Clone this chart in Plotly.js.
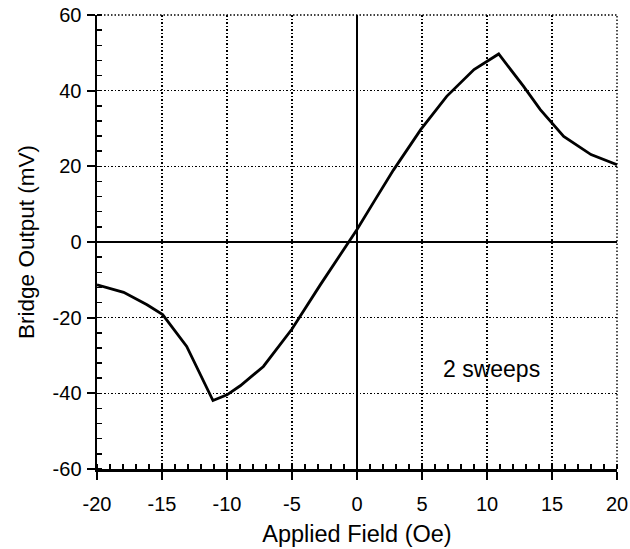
<!DOCTYPE html>
<html>
<head>
<meta charset="utf-8">
<script src="https://cdn.plot.ly/plotly-3.0.1.min.js"></script>
<style>html,body{margin:0;padding:0;background:#fff;}#chart{width:630px;height:549px;}</style>
</head>
<body>
<div id="chart"></div>
<script>
var fieldOe = [-20, -17.95, -16.15, -14.95, -13.1, -11.08, -10, -8.98, -7.2, -5, -2.8, -0.65, 0, 1.4, 2.8, 4.9, 6.9, 9, 10.9, 12.8, 14.1, 15.9, 18, 20];
var outputMv = [-11.3, -13.3, -16.6, -19.2, -27.6, -41.9, -40.4, -38, -32.9, -23, -11.2, 0.2, 3.3, 11.2, 19, 29.7, 38.5, 45.6, 49.7, 41.2, 35, 27.9, 23.1, 20.4];
var xTicks = [-20, -15, -10, -5, 0, 5, 10, 15, 20];
var yTicks = [-60, -40, -20, 0, 20, 40, 60];
var noteText = "2 sweeps";
var noteX = 10.35, noteY = -33.5;

var fontFam = "Liberation Sans, Arial, sans-serif";
var trace = {
  x: fieldOe, y: outputMv, mode: "lines", type: "scatter",
  line: {color: "#000", width: 2.8}, hoverinfo: "skip"
};
var gridDash = "1.5px,2px";
var axisCommon = {
  showline: true, linecolor: "#000", linewidth: 2.5,
  showgrid: true, gridcolor: "#000", griddash: gridDash, gridwidth: 1.4,
  zeroline: true, zerolinecolor: "#000", zerolinewidth: 2,
  ticks: "outside", ticklen: 8, tickwidth: 2, tickcolor: "#000",
  tickfont: {family: fontFam, size: 20, color: "#000"},
  mirror: false, fixedrange: true, automargin: false
};
var layout = {
  width: 630, height: 549,
  margin: {l: 97, r: 13, t: 15, b: 80},
  paper_bgcolor: "#fff", plot_bgcolor: "#fff",
  showlegend: false,
  xaxis: Object.assign({}, axisCommon, {
    range: [-20, 20], tickmode: "array", tickvals: xTicks, ticktext: xTicks.map(String),
    ticklabelstandoff: 7,
    minor: {dtick: 1, ticks: "inside", ticklen: 5, tickwidth: 1.5, tickcolor: "#000", showgrid: false},
    title: {text: "Applied Field (Oe)", font: {family: fontFam, size: 23.5, color: "#000"}, standoff: 12}
  }),
  yaxis: Object.assign({}, axisCommon, {
    range: [-60, 60], tickmode: "array", tickvals: yTicks, ticktext: yTicks.map(String),
    ticklabelstandoff: 1,
    minor: {dtick: 4, ticks: "inside", ticklen: 5, tickwidth: 1.5, tickcolor: "#000", showgrid: false},
    title: {text: "Bridge Output (mV)", font: {family: fontFam, size: 22.5, color: "#000"}, standoff: 12}
  }),
  shapes: [
    {type: "line", xref: "paper", yref: "paper", x0: 0, x1: 1, y0: 1, y1: 1, line: {color: "#000", width: 1.4, dash: gridDash}},
    {type: "line", xref: "paper", yref: "paper", x0: 1, x1: 1, y0: 0, y1: 1, line: {color: "#000", width: 1.4, dash: gridDash}}
  ],
  annotations: [{
    x: noteX, y: noteY, xref: "x", yref: "y", text: noteText, showarrow: false,
    font: {family: fontFam, size: 23, color: "#000"}
  }]
};
Plotly.newPlot("chart", [trace], layout, {displayModeBar: false, staticPlot: true});
</script>
</body>
</html>
